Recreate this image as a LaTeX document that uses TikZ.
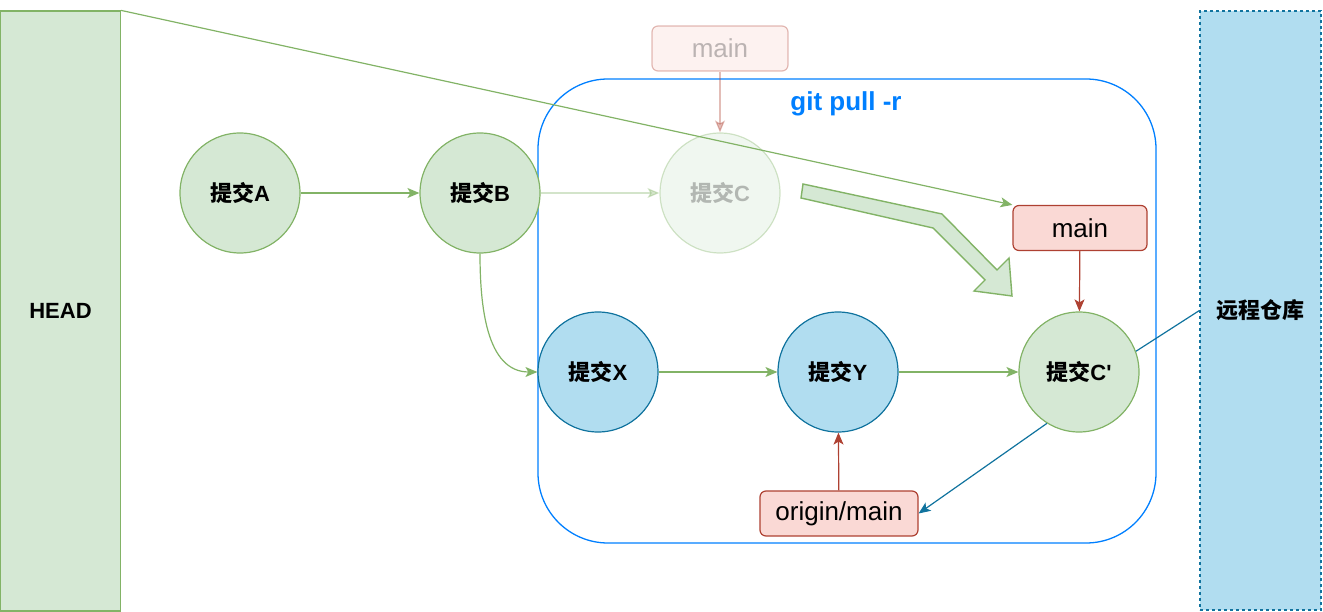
\documentclass[tikz,border=0pt]{standalone}
\usepackage{fontspec}
\setmainfont{Liberation Sans}
\newfontfamily\zhfont{Noto Sans CJK SC}
\newcommand\zh[1]{{\zhfont #1}}
\usetikzlibrary{positioning, arrows.meta}

\definecolor{gfill}{HTML}{D5E8D4}
\definecolor{gline}{HTML}{82B366}
\definecolor{bfill}{HTML}{B1DDF0}
\definecolor{bline}{HTML}{10739E}
\definecolor{rfill}{HTML}{FAD9D5}
\definecolor{rline}{HTML}{AE4132}
\definecolor{pullblue}{HTML}{007FFF}

\tikzset{
  commit/.style={circle, draw=gline, fill=gfill, line width=1.2pt, minimum size=120pt, inner sep=0pt, font=\fontsize{22}{24}\selectfont\bfseries},
  bcommit/.style={commit, draw=bline, fill=bfill},
  branch/.style={rectangle, rounded corners=6pt, draw=rline, fill=rfill, line width=1.2pt, minimum height=45pt, inner sep=0pt, font=\fontsize{26}{28}\selectfont},
  garrow/.style={draw=gline, line width=1.2pt, -{Stealth[length=12pt, width=10pt, inset=3pt]}},
  barrow/.style={draw=bline, line width=1.2pt, -{Stealth[length=12pt, width=10pt, inset=3pt]}},
  rarrow/.style={draw=rline, line width=1.2pt, -{Stealth[length=12pt, width=10pt, inset=3pt]}},
}

\begin{document}
\begin{tikzpicture}[x=1pt, y=-1pt]
\useasboundingbox (0,0) rectangle (1323,612);

\node[draw=pullblue, line width=1.3pt, rounded corners=70pt, minimum width=618pt, minimum height=464pt](pull) at (847,311) {};
\node[text=pullblue, font=\fontsize{26}{28}\selectfont\bfseries](pulltext) at (846,104) {git pull -r};

\node[draw=gline, fill=gfill, line width=1.2pt, minimum width=120pt, minimum height=600pt, inner sep=0pt, font=\fontsize{22}{24}\selectfont\bfseries](HEAD) at (60.5,311) {HEAD};
\node[draw=bline, fill=bfill, line width=1.2pt, dash pattern=on 3pt off 3pt, minimum width=121pt, minimum height=599pt, inner sep=0pt, font=\fontsize{22}{24}\selectfont\bfseries](remote) at (1260.5,310.5) {\zh{远程仓库}};

\node[commit](A) at (240,193) {\zh{提交}A};
\node[commit](B) at (480,193) {\zh{提交}B};
\node[bcommit](X) at (598,372) {\zh{提交}X};
\node[bcommit](Y) at (838,372) {\zh{提交}Y};
\node[commit](C1) at (1079,372) {\zh{提交}C\textquotesingle};

\begin{scope}[opacity=0.35]
\node[commit](C) at (720,193) {\textcolor{black!75}{\zh{提交}C}};
\node[branch, minimum width=136pt](mainold) at (720,48.5) {\textcolor{black!75}{main}};
\draw[rarrow] (mainold) -- (C);
\draw[garrow] (B) -- (C);
\end{scope}

\node[branch, minimum width=134pt](main) at (1080,228) {main};
\node[branch, minimum width=158pt](om) at (839,513.5) {origin/main};

\draw[garrow] (A) -- (B);
\draw[garrow] (B.south) to[out=-90, in=180] (X.west);
\draw[garrow] (X) -- (Y);
\draw[garrow] (Y) -- (C1);
\draw[rarrow] (main) -- (C1);
\draw[rarrow] (om) -- (Y);
\draw[barrow] (C1.238) -- (om.east);
\draw[draw=bline, line width=1.2pt] (C1.20) -- (remote.west);
\draw[garrow] (HEAD.north east) -- (main.north west);

% rebase arrow
\draw[draw=gline, fill=gfill, line width=1.4pt] (803,184) -- (942,214) -- (997,270) -- (1009,258) -- (1012,296) -- (974,291) -- (985,280) -- (933,228) -- (801,198) -- cycle;
\end{tikzpicture}
\end{document}
